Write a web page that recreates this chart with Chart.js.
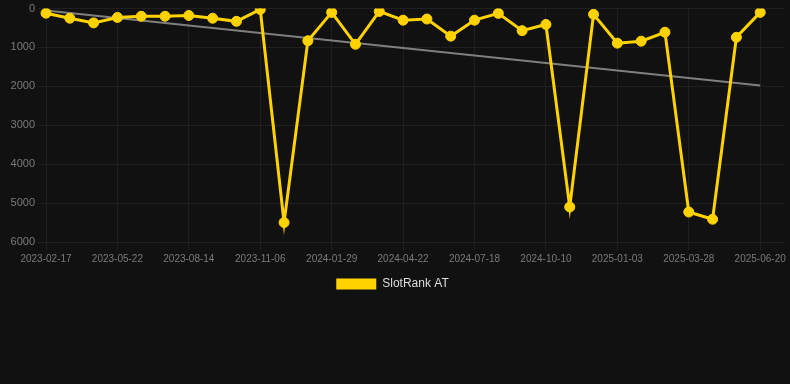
<!DOCTYPE html>
<html>
<head>
<meta charset="utf-8">
<script src="https://cdn.jsdelivr.net/npm/chart.js@4"></script>
<style>
    html, body { margin: 0; padding: 0; background: #111111; }
    #wrap { width: 790px; height: 300px; position: relative; }
</style>
</head>
<body>
<div id="wrap"><canvas id="rankChart"></canvas></div>
<script>
// dates (every 3rd one is shown on the axis, the rest are estimated)
const dates = [
    '2023-02-17', '2023-03-20', '2023-04-21', '2023-05-22', '2023-06-19', '2023-07-17',
    '2023-08-14', '2023-09-11', '2023-10-09', '2023-11-06', '2023-12-04', '2024-01-01',
    '2024-01-29', '2024-02-26', '2024-03-25', '2024-04-22', '2024-05-20', '2024-06-20',
    '2024-07-18', '2024-08-15', '2024-09-12', '2024-10-10', '2024-11-07', '2024-12-06',
    '2025-01-03', '2025-01-31', '2025-02-28', '2025-03-28', '2025-04-25', '2025-05-23',
    '2025-06-20', '2025-07-18'
];
const rankValues = [
    120, 250, 370, 230, 200, 200, 180, 250, 330, 25, 5500, 830,
    100, 920, 75, 300, 270, 710, 300, 125, 570, 410, 5100, 150,
    890, 840, 610, 5230, 5415, 740, 100, null
];
const trendStart = 50;
const trendEnd = 1980;
const yTicks = [0, 1000, 2000, 3000, 4000, 5000, 6000];

document.addEventListener('DOMContentLoaded', function() {
    const ctx = document.getElementById('rankChart');

    const trendValues = dates.map((d, i) => {
        if (i === 0) return trendStart;
        if (i === rankValues.length - 2) return trendEnd;
        return null;
    });

    new Chart(ctx, {
        type: 'line',
        data: {
            labels: dates,
            datasets: [{
                label: 'SlotRank AT',
                data: rankValues,
                borderColor: '#ffd200',
                backgroundColor: '#ffd200',
                borderWidth: 3,
                pointRadius: 5,
                pointBorderWidth: 1,
                pointHoverRadius: 5,
                tension: 0
            }, {
                label: 'trend',
                data: trendValues,
                borderColor: 'rgba(140,140,140,0.9)',
                borderWidth: 2,
                pointRadius: 0,
                spanGaps: true,
                tension: 0
            }]
        },
        options: {
            responsive: true,
            maintainAspectRatio: false,
            animation: false,
            layout: { padding: { left: 0, right: 5, top: 0 } },
            plugins: {
                legend: {
                    position: 'bottom',
                    labels: {
                        color: '#dddddd',
                        boxWidth: 40,
                        boxHeight: 11,
                        font: { family: 'Liberation Sans, Arial', size: 12 },
                        filter: item => item.text !== 'trend',
                        generateLabels: function(chart) {
                            const items = Chart.defaults.plugins.legend.labels.generateLabels(chart);
                            items.forEach(item => { item.lineWidth = 0; });
                            return items;
                        }
                    }
                },
                tooltip: { enabled: false }
            },
            scales: {
                x: {
                    grid: { color: '#1f1f1f' },
                    border: { color: '#1f1f1f' },
                    ticks: {
                        color: '#7a7a7a',
                        autoSkip: false,
                        maxRotation: 0,
                        font: { family: 'Liberation Sans, Arial', size: 10 },
                        callback: function(value, index) {
                            return index % 3 === 0 && index < 31 ? dates[index] : null;
                        }
                    }
                },
                y: {
                    reverse: true,
                    min: yTicks[0],
                    max: yTicks[yTicks.length - 1],
                    grid: { color: '#1f1f1f' },
                    border: { color: '#1f1f1f' },
                    afterFit: scale => { scale.width = 46; },
                    ticks: {
                        stepSize: 1000,
                        color: '#7a7a7a',
                        font: { family: 'Liberation Sans, Arial', size: 11, lineHeight: 1 },
                        callback: value => String(value)
                    }
                }
            }
        }
    });
});
</script>
</body>
</html>
